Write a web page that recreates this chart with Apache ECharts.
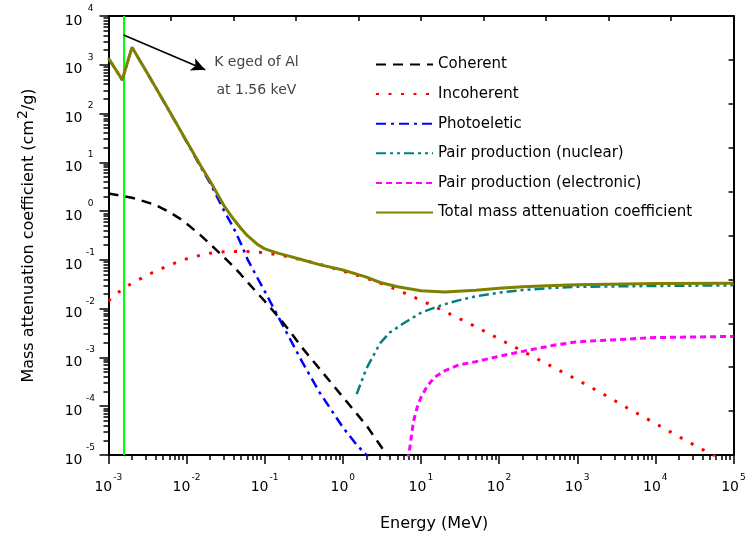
<!DOCTYPE html>
<html>
<head>
<meta charset="utf-8">
<script src="https://cdn.jsdelivr.net/npm/echarts@6/dist/echarts.min.js"></script>
<style>
  html, body { margin: 0; padding: 0; background: #ffffff; }
  #chart { width: 749px; height: 537px; }
</style>
</head>
<body>
<div id="chart"></div>
<script>
// Mass attenuation coefficients of aluminium (cm^2/g) versus photon energy (MeV)

const coherentE   = [1e-3, 1.5e-3, 2e-3, 3e-3, 4e-3, 5e-3, 6e-3, 8e-3, 1e-2, 1.5e-2, 2e-2, 3e-2, 4e-2, 5e-2, 6e-2, 8e-2, 0.1, 0.15, 0.2, 0.3, 0.5, 1, 2, 3, 4];
const coherentVal = [2.3, 2.05, 1.88, 1.55, 1.33, 1.11, 0.96, 0.72, 0.552, 0.323, 0.211, 0.1135, 0.0726, 0.0491, 0.0353, 0.021, 0.01422, 6.71e-3, 3.79e-3, 1.59e-3, 5.9e-4, 1.54e-4, 4.03e-5, 1.58e-5, 8.0e-6];

const incoherentE   = [1e-3, 1.5e-3, 2e-3, 3e-3, 4e-3, 5e-3, 6e-3, 8e-3, 1e-2, 1.5e-2, 2e-2, 3e-2, 4e-2, 5e-2, 6e-2, 8e-2, 0.1, 0.15, 0.2, 0.3, 0.5, 1, 2, 3, 5, 10, 20, 50, 100, 200, 500, 1e3, 2e3, 5e3, 1e4, 2e4, 5e4, 1e5];
const incoherentVal = [0.0145, 0.0251, 0.0333, 0.0468, 0.0589, 0.0684, 0.0771, 0.0933, 0.105, 0.1245, 0.1374, 0.1466, 0.149, 0.149, 0.148, 0.1445, 0.1396, 0.127, 0.116, 0.100, 0.082, 0.0589, 0.0423, 0.0333, 0.0242, 0.0148, 8.83e-3, 4.28e-3, 2.40e-3, 1.337e-3, 6.2e-4, 3.48e-4, 1.89e-4, 8.18e-5, 4.43e-5, 2.37e-5, 1.07e-5, 5.9e-6];

const photoE   = [1e-3, 1.5e-3, 2e-3, 3e-3, 4e-3, 5e-3, 6e-3, 8e-3, 1e-2, 1.5e-2, 2e-2, 3e-2, 4e-2, 5e-2, 6e-2, 8e-2, 0.1, 0.15, 0.2, 0.3, 0.5, 1, 1.5, 2, 3];
const photoVal = [1357, 488, 2288, 757, 343, 185, 112, 49.8, 26.4, 8.25, 3.75, 1.03, 0.45, 0.21, 0.1035, 0.0435, 0.0226, 6.67e-3, 2.79e-3, 8.2e-4, 1.95e-4, 3.68e-5, 1.62e-5, 1.0e-5, 4.5e-6];

const pairNucE   = [1.5, 2, 3, 4, 5, 6, 8, 10, 15, 20, 30, 50, 100, 200, 500, 1e3, 1e4, 1e5];
const pairNucVal = [1.77e-4, 5.93e-4, 1.97e-3, 3.26e-3, 4.14e-3, 5.03e-3, 6.67e-3, 8.26e-3, 0.01052, 0.0123, 0.0148, 0.01786, 0.02128, 0.02405, 0.02673, 0.0281, 0.0292, 0.0301];

const pairElE   = [6, 7, 8, 9, 10, 12, 15, 20, 30, 50, 100, 200, 500, 1e3, 1e4, 1e5];
const pairElVal = [5e-6, 1.05e-5, 4.9e-5, 9.9e-5, 1.53e-4, 2.58e-4, 3.98e-4, 5.3e-4, 6.98e-4, 8.18e-4, 1.06e-3, 1.33e-3, 1.78e-3, 2.09e-3, 2.56e-3, 2.70e-3];

const totalE   = [1e-3, 1.5e-3, 2e-3, 3e-3, 4e-3, 5e-3, 6e-3, 8e-3, 1e-2, 1.5e-2, 2e-2, 3e-2, 4e-2, 5e-2, 6e-2, 8e-2, 0.1, 0.15, 0.2, 0.3, 0.5, 1, 2, 3, 5, 10, 20, 50, 100, 200, 500, 1e3, 1e4, 1e5];
const totalVal = [1360, 490, 2290, 760, 345, 187, 113, 50.5, 27, 8.7, 4.1, 1.3, 0.68, 0.435, 0.313, 0.2095, 0.168, 0.136, 0.121, 0.1007, 0.080, 0.0620, 0.0444, 0.0344, 0.0282, 0.0233, 0.0220, 0.0238, 0.0262, 0.0282, 0.0300, 0.0310, 0.0327, 0.0330];

const seriesNames = ['Coherent', 'Incoherent', 'Photoeletic', 'Pair production (nuclear)', 'Pair production (electronic)', 'Total mass attenuation coefficient'];

// Aluminium K absorption edge (MeV) and its annotation
const kEdge = 0.00156;
const kArrowFrom = [0.00156, 4085];
const kArrowTo = [0.0173, 787];
const kNoteAt = [0.0782, 566];
const kNoteText = 'K eged of Al\nat 1.56 keV';

const xMin = 1e-3, xMax = 1e5, yMin = 1e-5, yMax = 1e4;

const FONT = 'DejaVu Sans';

function pairs(xs, ys) { return xs.map((x, i) => [x, ys[i]]); }

// minor tick positions of the log axes, in decades
function minorDecades(lo, hi) {
  const out = [];
  for (let n = lo; n < hi; n++) for (let k = 2; k <= 9; k++) out.push(n + Math.log10(k));
  return out;
}

function exponentOf(v) { return Math.round(Math.log10(v)); }

const chart = echarts.init(document.getElementById('chart'), null, { renderer: 'canvas' });

const lineSeries = (name, xs, ys, color, width, dash, z) => ({
  name, type: 'line', xAxisIndex: 0, yAxisIndex: 0,
  data: pairs(xs, ys), showSymbol: false, symbol: 'none', smooth: false, clip: true, z,
  lineStyle: { color, width, type: dash, cap: 'butt' },
  itemStyle: { color },
  emphasis: { disabled: true }
});

chart.setOption({
  animation: false,
  backgroundColor: '#ffffff',
  textStyle: { fontFamily: FONT },
  grid: { left: 108.5, right: 10.7, top: 16, bottom: 81, containLabel: false },
  legend: {
    orient: 'vertical', left: 375, top: 57, padding: 0,
    itemWidth: 57, itemHeight: 14, itemGap: 14.6,
    selectedMode: false,
    itemStyle: { opacity: 0 },
    textStyle: { fontFamily: FONT, fontSize: 15, color: '#000' },
    data: seriesNames
  },
  xAxis: [
    {
      type: 'log', logBase: 10, min: xMin, max: xMax, splitNumber: 8, position: 'bottom',
      axisLine: { show: true, onZero: false, lineStyle: { color: '#000', width: 2 } },
      axisTick: { show: true, length: 9, lineStyle: { color: '#000', width: 1.5 } },
      splitLine: { show: false },
      axisLabel: {
        interval: 0, margin: 17.8, fontFamily: FONT, color: '#000',
        formatter: v => '{b|10}{e|' + exponentOf(v) + '}{h| }',
        rich: {
          b: { fontFamily: FONT, fontSize: 14, lineHeight: 14, verticalAlign: 'bottom', color: '#000' },
          e: { fontFamily: FONT, fontSize: 9, lineHeight: 9, verticalAlign: 'top', padding: [0, 0, 0, 1], color: '#000' },
          h: { fontSize: 1, lineHeight: 21.5 }
        }
      },
      name: 'Energy (MeV)', nameLocation: 'middle', nameGap: 61,
      nameTextStyle: { fontFamily: FONT, fontSize: 16, color: '#000', padding: [0, 0, 0, 26] }
    },
    {
      type: 'value', position: 'top', min: 0, max: 10, interval: 1,
      axisLine: { show: true, onZero: false, lineStyle: { color: '#000', width: 2 } },
      axisTick: { show: true, inside: true, length: 5, lineStyle: { color: '#000', width: 1.5 } },
      axisLabel: { show: false }, splitLine: { show: false }
    },
    {
      type: 'value', position: 'bottom', min: -3, max: 5,
      axisLine: { show: false, onZero: false },
      axisTick: { show: true, length: 5, customValues: minorDecades(-3, 5), lineStyle: { color: '#000', width: 1.5 } },
      axisLabel: { show: false }, splitLine: { show: false }
    }
  ],
  yAxis: [
    {
      type: 'log', logBase: 10, min: yMin, max: yMax, splitNumber: 9, position: 'left',
      axisLine: { show: true, onZero: false, lineStyle: { color: '#000', width: 2 } },
      axisTick: { show: true, length: 9, lineStyle: { color: '#000', width: 1.5 } },
      splitLine: { show: false },
      axisLabel: {
        interval: 0, margin: 12, fontFamily: FONT, color: '#000',
        formatter: v => '{b|10}{e|' + exponentOf(v) + '}',
        rich: {
          b: { fontFamily: FONT, fontSize: 14, lineHeight: 14, padding: [10, 0, 0, 0], color: '#000' },
          e: { fontFamily: FONT, fontSize: 9, lineHeight: 9, width: 12, align: 'left', padding: [0, 0, 15, 2], color: '#000' }
        }
      },
      name: '{t|Mass attenuation coefficient (cm}{s|2}{t|/g)}',
      nameLocation: 'middle', nameGap: 74, nameRotate: 90,
      nameTextStyle: {
        fontFamily: FONT, fontSize: 16, color: '#000',
        rich: {
          t: { fontFamily: FONT, fontSize: 16, lineHeight: 16, padding: [5, 0, 0, 0], color: '#000' },
          s: { fontFamily: FONT, fontSize: 14, lineHeight: 14, padding: [0, 0, 7, 1], color: '#000' }
        }
      }
    },
    {
      type: 'value', position: 'right', min: 0, max: 10, interval: 1,
      axisLine: { show: true, onZero: false, lineStyle: { color: '#000', width: 2 } },
      axisTick: { show: true, inside: true, length: 5, lineStyle: { color: '#000', width: 1.5 } },
      axisLabel: { show: false }, splitLine: { show: false }
    },
    {
      type: 'value', position: 'left', min: -5, max: 4,
      axisLine: { show: false, onZero: false },
      axisTick: { show: true, length: 5, customValues: minorDecades(-5, 4), lineStyle: { color: '#000', width: 1.5 } },
      axisLabel: { show: false }, splitLine: { show: false }
    }
  ],
  series: [
    lineSeries(seriesNames[0], coherentE, coherentVal, '#000000', 2.5, [10, 7], 3),
    lineSeries(seriesNames[1], incoherentE, incoherentVal, '#ff0000', 3, [3, 9.5], 3),
    lineSeries(seriesNames[2], photoE, photoVal, '#0000ff', 2.5, [10, 5, 3, 5], 2),
    lineSeries(seriesNames[3], pairNucE, pairNucVal, '#008080', 2.5, [10, 4, 3, 4, 3, 4], 3),
    lineSeries(seriesNames[4], pairElE, pairElVal, '#ff00ff', 3, [6, 4], 3),
    lineSeries(seriesNames[5], totalE, totalVal, '#808000', 3, 'solid', 5),
    {
      name: 'K edge', type: 'line', xAxisIndex: 0, yAxisIndex: 0, data: [], z: 4,
      markLine: {
        silent: true, animation: false, symbol: ['none', 'none'], symbolSize: 12,
        label: { show: false },
        data: [
          [
            { coord: [kEdge, yMin], symbol: 'none', lineStyle: { color: '#00ff00', width: 2, type: 'solid' } },
            { coord: [kEdge, yMax], symbol: 'none' }
          ],
          [
            { coord: kArrowFrom, symbol: 'none', lineStyle: { color: '#000', width: 1.6, type: 'solid' } },
            { coord: kArrowTo, symbol: 'arrow', symbolSize: [10, 14] }
          ]
        ]
      },
      markPoint: {
        silent: true, animation: false,
        data: [{
          coord: kNoteAt, symbol: 'circle', symbolSize: 0,
          itemStyle: { color: 'transparent' },
          label: {
            show: true, position: 'inside', formatter: kNoteText,
            fontFamily: FONT, fontSize: 14, lineHeight: 28, color: '#444', align: 'center'
          }
        }]
      }
    }
  ]
});
</script>
</body>
</html>
